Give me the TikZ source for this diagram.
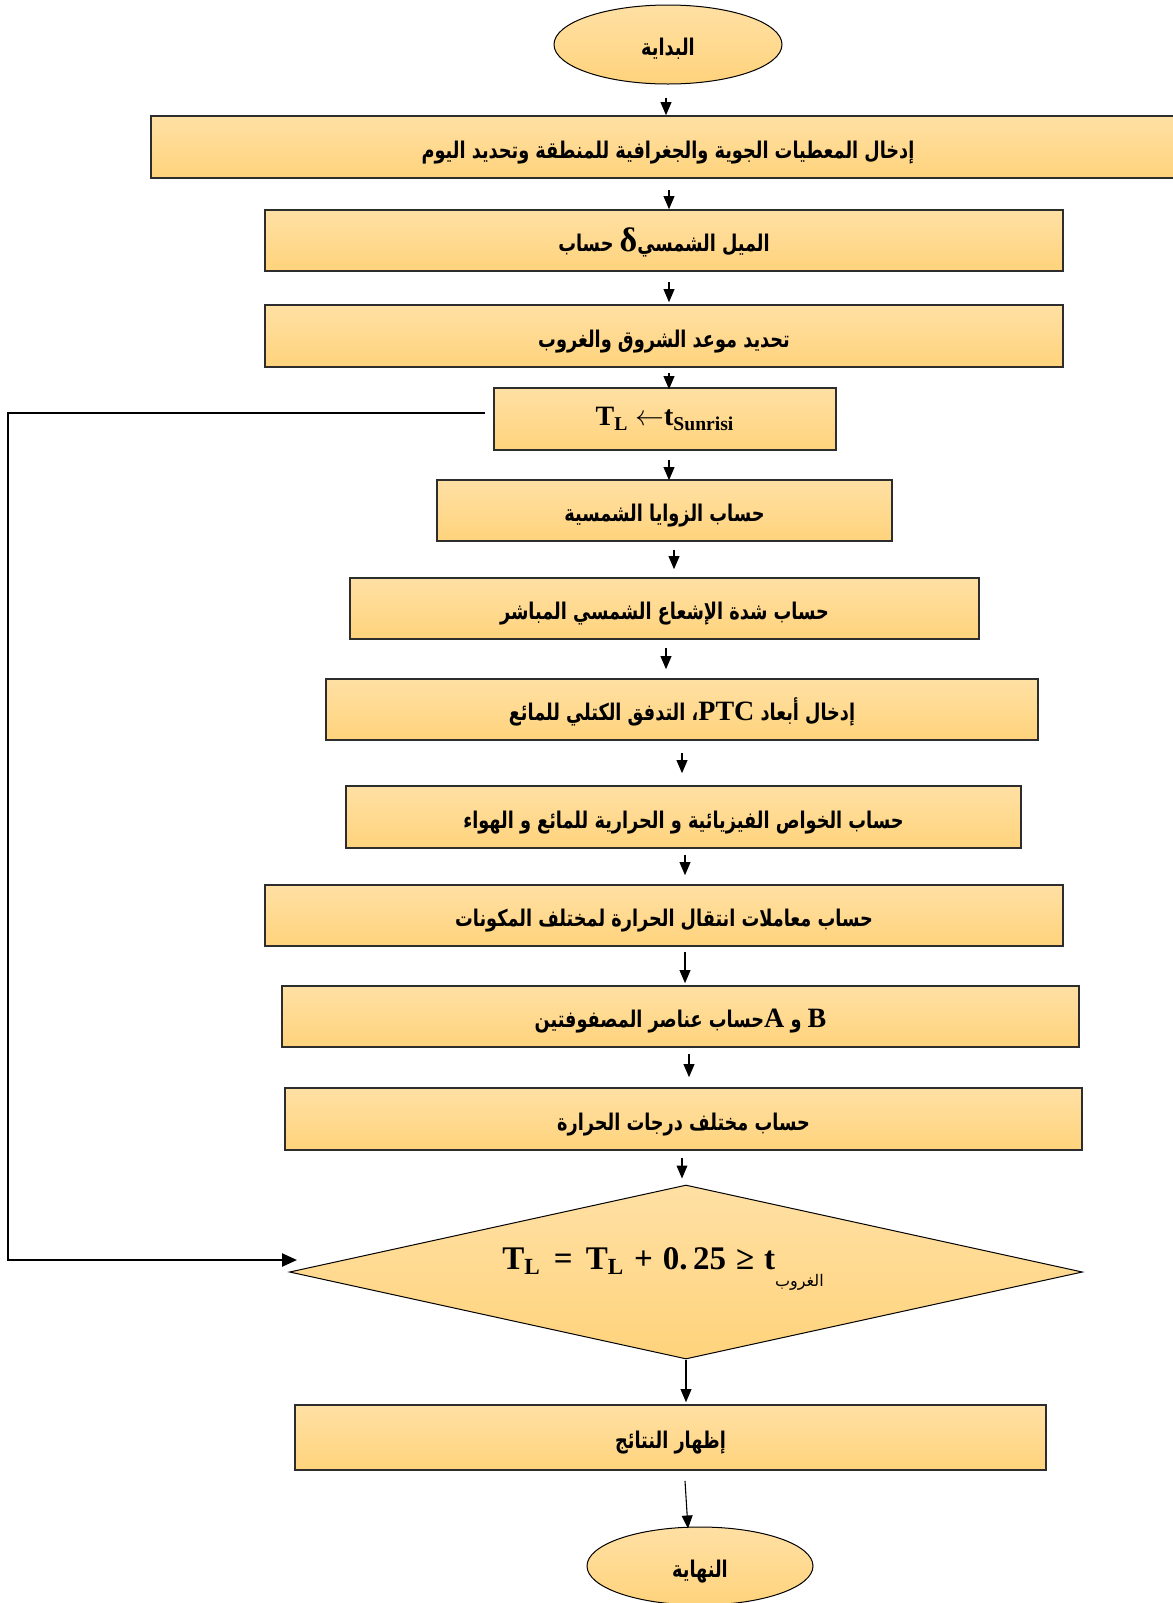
\documentclass[tikz,border=0pt]{standalone}
\usepackage{fontspec}
\setmainfont{Liberation Serif}
\newfontfamily\arabicfont[Script=Arabic,FakeStretch=0.77]{DejaVu Sans}
\newfontfamily\arabicsmall[Script=Arabic]{DejaVu Sans}
\TeXXeTstate=1
\usetikzlibrary{shapes.geometric,arrows.meta,calc}

\definecolor{goldtop}{RGB}{255,224,164}
\definecolor{goldbot}{RGB}{255,211,124}
\definecolor{boxline}{RGB}{45,45,45}

% Arabic text run (bold, right to left), set slightly low like the box captions
\newcommand\arb[1]{\raisebox{-2.5pt}[9pt][3pt]{\arabicfont\bfseries\beginR #1\endR}}
% Latin piece inside an Arabic run
\newcommand\lat[1]{\beginL{\rmfamily\bfseries\fontsize{14}{16}\selectfont #1}\endL}

\tikzset{
  procbox/.style={draw=boxline, line width=0.8pt, top color=goldtop, bottom color=goldbot,
    inner sep=0pt, font=\fontsize{11.5}{13}\selectfont},
  terminal/.style={ellipse, draw=black, line width=0.5pt, top color=goldtop, bottom color=goldbot,
    inner sep=0pt, font=\fontsize{11.5}{13}\selectfont},
  decision/.style={diamond, draw=black, line width=0.5pt, top color=goldtop, bottom color=goldbot,
    inner sep=0pt},
  arr/.style={-{Triangle[length=6.5pt,width=5.4pt]}, line width=0.55pt, black},
  feedback/.style={-{Triangle[length=7.5pt,width=6.5pt]}, line width=1.25pt, black},
}

% arrow between two nodes: from, to, dx at start, gap at start, dx at end, shift at end (px)
\newcommand\link[6]{\draw[arr] ($(#1.south)+(#3,#4)$) -- ($(#2.north)+(#5,#6)$);}

\begin{document}
\begin{tikzpicture}[x=0.5pt, y=-0.5pt]
  \fill[white] (0,0) rectangle (1173,1603);
  \useasboundingbox (0,0) rectangle (1173,1603);

  \node[terminal, minimum width=114pt, minimum height=39.5pt] (start) at (668,44.5) {\arb{البداية}};

  \node[procbox, minimum width=517pt, minimum height=31pt] (in1) at (668,147)
    {\arb{إدخال المعطيات الجوية والجغرافية للمنطقة وتحديد اليوم}};

  \node[procbox, minimum width=399pt, minimum height=30.5pt] (decl) at (664,240.5)
    {\arb{الميل الشمسي\beginL{\rmfamily\fontsize{17}{17}\selectfont δ}\endL{} حساب}};

  \node[procbox, minimum width=399pt, minimum height=31pt] (rise) at (664,336)
    {\arb{تحديد موعد الشروق والغروب}};

  \node[procbox, minimum width=171pt, minimum height=31pt] (tl) at (665,419)
    {\bfseries\fontsize{14}{16}\selectfont T\textsubscript{L} $\leftarrow$t\textsubscript{Sunrisi}};

  \node[procbox, minimum width=227.5pt, minimum height=30.5pt] (ang) at (664.5,510.5)
    {\arb{حساب الزوايا الشمسية}};

  \node[procbox, minimum width=314.5pt, minimum height=30.5pt] (irr) at (664.5,608.5)
    {\arb{حساب شدة الإشعاع الشمسي المباشر}};

  \node[procbox, minimum width=356pt, minimum height=30.5pt] (ptc) at (682,709.5)
    {\arb{إدخال أبعاد \lat{PTC}، التدفق الكتلي للمائع}};

  \node[procbox, minimum width=337.5pt, minimum height=31pt] (prop) at (683.5,817)
    {\arb{حساب الخواص الفيزيائية و الحرارية للمائع و الهواء}};

  \node[procbox, minimum width=399pt, minimum height=30.5pt] (coef) at (664,915.5)
    {\arb{حساب معاملات انتقال الحرارة لمختلف المكونات}};

  \node[procbox, minimum width=398.5pt, minimum height=30.5pt] (mat) at (680.5,1016.5)
    {\arb{\lat{B} و \lat{A}حساب عناصر المصفوفتين}};

  \node[procbox, minimum width=398.5pt, minimum height=31pt] (temp) at (683.5,1119)
    {\arb{حساب مختلف درجات الحرارة}};

  \node[decision, minimum width=396.5pt, minimum height=87pt] (cond) at (686,1272) {};
  \node[inner sep=0pt, font=\bfseries\fontsize{16.5}{18}\selectfont] (condtext) at (663,1269)
    {T\textsubscript{L}\hspace{0.4em}=\hspace{0.4em}T\textsubscript{L}\hspace{0.3em}+\hspace{0.3em}0.\,25\hspace{0.3em}≥\hspace{0.3em}t\raisebox{-1.1ex}{\mdseries\fontsize{8}{9}\selectfont\arabicsmall\beginR الغروب\endR}};

  \node[procbox, minimum width=375.5pt, minimum height=32.5pt] (res) at (670.5,1437.5)
    {\arb{إظهار النتائج}};

  \node[terminal, minimum width=113pt, minimum height=39pt] (end) at (700,1566) {\arb{النهاية}};

  % main flow
  \link{start}{in1}{-2}{13}{-2}{0}
  \link{in1}{decl}{1}{11}{5}{0}
  \link{decl}{rise}{5}{10}{5}{-2}
  \link{rise}{tl}{5}{5}{4}{2}
  \link{tl}{ang}{4}{9}{4.5}{1}
  \link{ang}{irr}{9.5}{8}{9.5}{-8}
  \link{irr}{ptc}{1.5}{8}{-16}{-9}
  \link{ptc}{prop}{0}{12}{-1.5}{-12}
  \link{prop}{coef}{1.5}{6}{21}{-9}
  \link{coef}{mat}{21}{5}{4.5}{-2}
  \link{mat}{temp}{8.5}{6}{5.5}{-10}
  \link{temp}{cond}{-1.5}{7}{-4}{-6}
  \link{cond}{res}{0}{0}{15.5}{-2}
  \link{res}{end}{14.5}{10}{-12}{2}

  % loop back from the time step test to the start time
  \coordinate (rail) at (8,1260);
  \draw[feedback] ($(tl.west)+(-8,-6)$) -| (rail) -- ($(cond.west)+(8,-12)$);
\end{tikzpicture}
\end{document}
